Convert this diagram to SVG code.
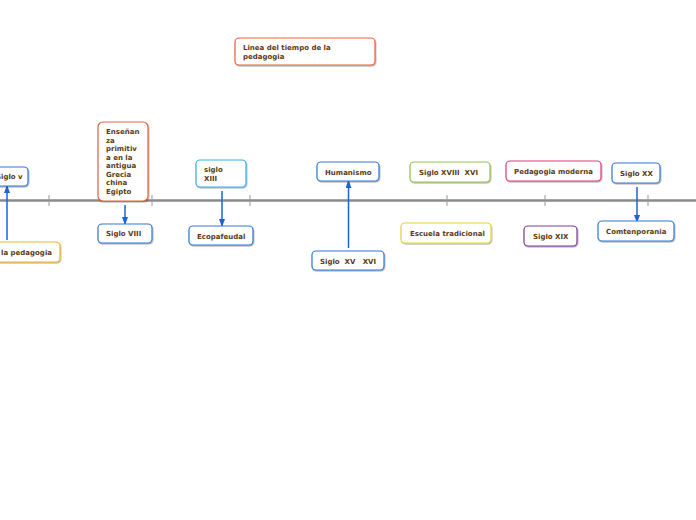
<svg xmlns="http://www.w3.org/2000/svg" width="696" height="520" viewBox="0 0 696 520">
<defs>
<marker id="ah" markerWidth="8" markerHeight="6" refX="7" refY="3" orient="auto" markerUnits="userSpaceOnUse"><path d="M0,0 L8,3 L0,6 Z" fill="#1b63d6"/></marker>
<filter id="sh" x="-20%" y="-20%" width="140%" height="150%"><feDropShadow dx="0.6" dy="1" stdDeviation="0.7" flood-color="#000" flood-opacity="0.35"/></filter>
</defs>
<style>
.b{fill:#fff;stroke-width:1.2;filter:url(#sh)}
.t{font-family:"DejaVu Sans",Verdana,sans-serif;font-weight:bold;font-size:7px;fill:#5b3a14}
.blue{stroke:#2f78dc}
.lb{stroke:#36aee6}
.org{stroke:#e8623a}
.yel{stroke:#f2b51c}
.grn{stroke:#93c447}
.ye2{stroke:#e4d63a}
.pnk{stroke:#e8397f}
.pur{stroke:#7a3e98}
.c{stroke:#1b63d6;stroke-width:1.5;fill:none;marker-end:url(#ah)}
</style>
<rect width="696" height="520" fill="#fff"/>
<g id="timeline">
<line x1="0" y1="200.5" x2="696" y2="200.5" stroke="#8a8a8a" stroke-width="2.5"/>
<g stroke="#999" stroke-width="1">
<line x1="49" y1="195" x2="49" y2="206"/>
<line x1="152" y1="195" x2="152" y2="206"/>
<line x1="250" y1="195" x2="250" y2="206"/>
<line x1="447" y1="195" x2="447" y2="206"/>
<line x1="545" y1="195" x2="545" y2="206"/>
<line x1="648" y1="195" x2="648" y2="206"/>
</g>
</g>
<g id="connectors">
<line class="c" x1="7" y1="240" x2="7" y2="186"/>
<line class="c" x1="125" y1="205" x2="125" y2="224"/>
<line class="c" x1="222" y1="191" x2="222" y2="226"/>
<line class="c" x1="348.5" y1="248" x2="348.5" y2="181"/>
<line class="c" x1="637" y1="187" x2="637" y2="222"/>
</g>
<g id="title"><rect class="b org" x="235" y="38" width="140" height="27" rx="4"/><text class="t" x="243" y="50">Linea del tiempo de la</text><text class="t" x="243" y="59">pedagogia</text></g>
<g id="siglo-v"><rect class="b blue" x="-10" y="167" width="38" height="19" rx="4"/><text class="t" x="-4" y="179">Siglo v</text></g>
<g id="pedagogia"><rect class="b yel" x="-10" y="242" width="70" height="20" rx="4"/><text class="t" x="1" y="255">la pedagogia</text></g>
<g id="ensenanza"><rect class="b org" x="98" y="122" width="50" height="79" rx="5"/>
<text class="t" x="106" y="134">Enseñan</text><text class="t" x="106" y="142.5">za</text><text class="t" x="106" y="151">primitiv</text><text class="t" x="106" y="159.5">a en la</text><text class="t" x="106" y="168">antigua</text><text class="t" x="106" y="176.5">Grecia</text><text class="t" x="106" y="185">china</text><text class="t" x="106" y="193.5">Egipto</text></g>
<g id="siglo-viii"><rect class="b blue" x="98" y="224" width="54" height="19" rx="4"/><text class="t" x="106" y="236">Siglo VIII</text></g>
<g id="siglo-xiii"><rect class="b lb" x="196" y="160" width="50" height="27" rx="4"/><text class="t" x="204" y="172">siglo</text><text class="t" x="204" y="181">XIII</text></g>
<g id="ecopafeudal"><rect class="b blue" x="189" y="226" width="64" height="19" rx="4"/><text class="t" x="197" y="238.5">Ecopafeudal</text></g>
<g id="humanismo"><rect class="b blue" x="317" y="162" width="62" height="19" rx="4"/><text class="t" x="325" y="174.5">Humanismo</text></g>
<g id="siglo-xv"><rect class="b blue" x="312" y="251" width="72" height="19" rx="4"/><text class="t" x="320" y="263.5" xml:space="preserve">Siglo  XV   XVI</text></g>
<g id="siglo-xviii"><rect class="b grn" x="410" y="162" width="80" height="20" rx="4"/><text class="t" x="419" y="174.5" xml:space="preserve">Siglo XVIII  XVI</text></g>
<g id="escuela"><rect class="b ye2" x="401" y="223" width="90" height="20" rx="4"/><text class="t" x="410" y="236">Escuela tradicional</text></g>
<g id="moderna"><rect class="b pnk" x="506" y="161" width="95" height="20" rx="4"/><text class="t" x="514" y="173.5">Pedagogia moderna</text></g>
<g id="siglo-xix"><rect class="b pur" x="524" y="226" width="53" height="20" rx="4"/><text class="t" x="533" y="239">Siglo XIX</text></g>
<g id="siglo-xx"><rect class="b blue" x="612" y="163" width="48" height="20" rx="4"/><text class="t" x="620" y="176">Siglo XX</text></g>
<g id="comtenporania"><rect class="b blue" x="598" y="221" width="76" height="20" rx="4"/><text class="t" x="606" y="234">Comtenporania</text></g>
</svg>
